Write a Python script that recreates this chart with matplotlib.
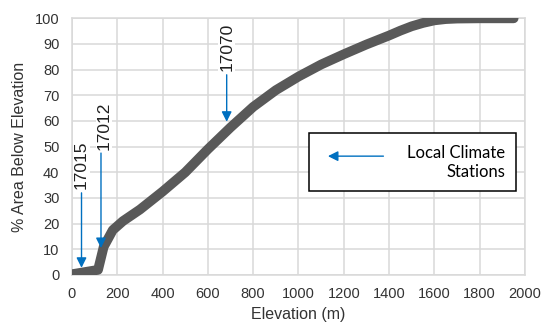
import numpy as np
import matplotlib
matplotlib.use("Agg")
import matplotlib.pyplot as plt
from matplotlib.patches import Rectangle

# hypsometric curve
elevation = [0, 115, 140, 180, 225, 300, 400, 500, 600, 700, 800, 900, 1000,
             1100, 1200, 1300, 1400, 1450, 1500, 1550, 1600, 1650, 1700, 1800, 1950]
pct_below = [0.3, 2, 11, 17.5, 21, 25.5, 32.5, 40, 49, 57.5, 65.5, 72, 77.3,
             82, 86, 89.8, 93.3, 95.2, 96.9, 98.2, 99.2, 99.7, 99.9, 100, 100]

# climate stations: label, elevation, arrow tip, arrow start, label centre
stations = ["17015", "17012", "17070"]
station_x = [42, 128, 683]
station_tip = [2.8, 10.5, 59.7]
station_start = [32, 47.5, 78]
station_label_x = [42, 142, 683]
station_label_y = [43, 58, 89]

xticks = list(range(0, 2001, 200))
yticks = list(range(0, 101, 10))

blue = '#0070C0'
grey = '#595959'
grid_col = '#D9D9D9'
tick_font = 'Liberation Sans'

fig = plt.figure(figsize=(5.5, 3.3), dpi=100)
ax = fig.add_axes([0.1309, 0.1667, 0.8236, 0.7778])

ax.plot(elevation, pct_below, color=grey, lw=7, solid_capstyle='round',
        solid_joinstyle='round', zorder=3)

ax.set_xlim(0, 2000)
ax.set_ylim(0, 100)
ax.set_xticks(xticks)
ax.set_yticks(yticks)
ax.grid(True, color=grid_col, lw=1.1)
ax.set_axisbelow(True)
for s in ax.spines.values():
    s.set_color(grid_col)
    s.set_linewidth(1.1)
ax.tick_params(length=0, labelsize=10.5, pad=9, labelcolor='#333333')
for lab in ax.get_xticklabels() + ax.get_yticklabels():
    lab.set_family(tick_font)

ax.set_xlabel('Elevation (m)', fontsize=11.5, family=tick_font, color='#333333', labelpad=4)
ax.set_ylabel('% Area Below Elevation', fontsize=11.5, family=tick_font, color='#333333', labelpad=6)

for name, sx, tip, start, lx, ly in zip(stations, station_x, station_tip,
                                        station_start, station_label_x, station_label_y):
    ax.annotate('', xy=(sx, tip), xytext=(sx, start),
                arrowprops=dict(arrowstyle='-|>,head_length=0.6,head_width=0.3',
                                color=blue, lw=1.0, shrinkA=0, shrinkB=0), zorder=4)
    ax.text(lx, ly, name, rotation=90, ha='center', va='center', fontsize=12.5,
            family=tick_font, color='#202020', zorder=5,
            bbox=dict(facecolor='white', edgecolor='none', pad=0.5))

# key box
box = Rectangle((1045, 32.6), 915, 22.6, facecolor='white', edgecolor='black',
                lw=1.1, zorder=5)
ax.add_patch(box)
ax.annotate('', xy=(1130, 46.3), xytext=(1375, 46.3),
            arrowprops=dict(arrowstyle='-|>,head_length=0.6,head_width=0.3',
                            color=blue, lw=1.0, shrinkA=0, shrinkB=0), zorder=6)
ax.text(1912, 43.8, 'Local Climate\nStations', ha='right', va='center',
        fontsize=12, family='Lato', color='black', linespacing=1.2, zorder=6)

fig.savefig('out.png', dpi=100)
